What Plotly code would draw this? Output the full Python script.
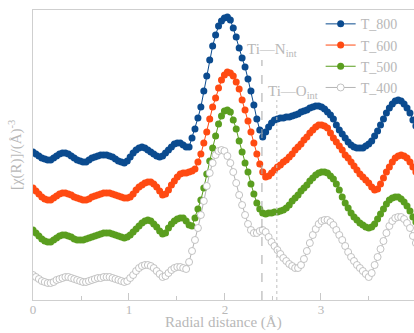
import numpy as np
import plotly.graph_objects as go

# Radial distance grid (Å)
N_PTS = 131
DR = 0.03068
r = [round(i * DR, 4) for i in range(N_PTS)]

# |chi(R)| values (offset, arbitrary units)
t800 = [148,146,144,142,141,140,140,142,144,146,
        147,147,146,144,142,140,139,138,138,140,
        142,143,144,145,145,145,144,143,141,139,
        138,137,139,143,147,150,152,153,152,150,
        148,146,144,143,144,147,150,153,156,157,
        157,155,153,153,162,171,182,193,209,224,
        240,254,265,274,279,282,283,280,272,263,
        252,242,233,221,209,195,181,170,163,168,
        173,177,180,181,182,182,183,183,184,185,
        186,188,189,190,192,193,194,194,193,191,
        188,185,181,175,170,166,162,158,155,153,
        152,152,152,154,156,159,164,169,175,181,
        187,192,196,199,200,199,196,192,187,180,174]

t600 = [112,109,106,103,101,100,100,102,104,106,
        107,107,106,105,103,102,101,100,100,101,
        103,104,105,106,107,107,107,106,105,104,
        103,102,102,103,106,110,113,115,117,118,
        118,116,113,109,105,106,110,115,119,123,
        126,127,127,128,129,131,138,146,157,168,
        181,193,202,212,220,225,228,227,224,218,
        211,200,190,179,168,157,146,136,128,123,
        124,127,130,133,135,138,140,143,146,150,
        153,156,160,163,167,170,173,175,175,174,
        172,167,162,158,154,150,145,142,138,134,
        130,126,123,120,117,113,110,111,116,122,
        128,133,138,142,144,145,144,142,138,133,128]

t500 = [70,67,64,61,59,58,58,60,62,64,
        65,65,64,63,61,60,60,60,61,62,
        63,64,65,66,67,67,67,66,65,64,
        63,62,63,65,68,71,74,77,79,80,
        79,76,73,69,66,67,72,76,79,81,
        82,82,79,75,74,82,91,100,112,126,
        139,152,164,176,184,189,190,188,180,171,
        159,148,137,128,116,106,97,91,87,86,
        87,87,88,88,89,90,92,95,99,102,
        105,109,112,115,119,122,125,127,128,128,
        127,124,121,116,110,103,97,92,87,83,
        80,77,75,73,72,73,76,81,86,91,
        96,100,102,103,103,101,98,94,89,83,78]

t400 = [25,23,21,19,18,17,17,18,20,21,
        22,23,23,22,21,20,19,18,18,19,
        20,21,22,22,23,23,23,22,21,20,
        19,18,19,22,25,29,32,34,35,35,
        34,32,29,26,23,24,27,30,32,33,
        33,32,31,38,49,60,72,85,99,114,
        127,137,145,149,150,149,144,137,128,117,
        105,95,85,76,70,67,67,69,70,68,
        63,58,54,50,46,42,39,36,34,32,
        32,35,41,49,57,65,71,76,79,80,
        80,78,75,70,65,60,54,48,43,39,
        35,32,29,26,23,27,35,43,51,59,
        67,74,79,82,83,83,81,77,72,64,57]

series_names = ["T_800", "T_600", "T_500", "T_400"]

# Reference bond distances (Å) and marker line tops
ti_n_r, ti_n_top = 2.385, 240
ti_o_r, ti_o_top = 2.54, 200

x_ticks = [0, 1, 2, 3]

GRAY = "#b8b8b8"
FONT = "Liberation Serif, Times New Roman, serif"

fig = go.Figure()

styles = [
    dict(color="#0b4b8f", fill="#0b4b8f"),
    dict(color="#ff4a12", fill="#ff4a12"),
    dict(color="#5a9e1f", fill="#5a9e1f"),
    dict(color="#b4b4b4", fill="white"),
]
for name, ys, st in zip(series_names, [t800, t600, t500, t400], styles):
    fig.add_trace(go.Scatter(
        x=r, y=ys, name=name, mode="lines+markers",
        line=dict(color=st["color"], width=1),
        marker=dict(size=7, color=st["fill"],
                    line=dict(color=st["color"], width=0.8 if st["fill"] == "white" else 0)),
    ))

fig.add_shape(type="line", xref="x", yref="y", x0=ti_n_r, x1=ti_n_r, y0=0, y1=ti_n_top,
              line=dict(color="#a8a8a8", width=1, dash="dash"))
fig.add_shape(type="line", xref="x", yref="y", x0=ti_o_r, x1=ti_o_r, y0=0, y1=ti_o_top,
              line=dict(color="#c0c0c0", width=1, dash="dot"))

fig.add_annotation(x=ti_n_r + 0.1, y=ti_n_top + 10, xref="x", yref="y",
                   text="Ti\u2014N<sub>int</sub>", showarrow=False,
                   font=dict(family=FONT, size=15, color=GRAY), xanchor="center", yanchor="middle")
fig.add_annotation(x=ti_o_r + 0.165, y=ti_o_top + 8, xref="x", yref="y",
                   text="Ti\u2014O<sub>int</sub>", showarrow=False,
                   font=dict(family=FONT, size=15, color=GRAY), xanchor="center", yanchor="middle")

# axis titles as annotations for exact placement
fig.add_annotation(x=0.5, y=-33 / 290, xref="paper", yref="paper",
                   text="Radial distance (Å)", showarrow=False,
                   font=dict(family=FONT, size=15, color=GRAY), xanchor="center", yanchor="bottom")
fig.add_annotation(x=-0.047, y=0.5, xref="paper", yref="paper", textangle=-90,
                   text="[χ(R)]/(Å)<sup>-3</sup>", showarrow=False,
                   font=dict(family=FONT, size=15, color=GRAY), xanchor="center", yanchor="middle")

fig.update_layout(
    width=414, height=333,
    margin=dict(l=33, r=0, t=10, b=33, autoexpand=False),
    plot_bgcolor="white", paper_bgcolor="white",
    showlegend=True,
    legend=dict(x=0.755, y=1.006, xanchor="left", yanchor="top",
                bgcolor="rgba(0,0,0,0)",
                font=dict(family=FONT, size=14, color=GRAY),
                tracegroupgap=0, itemwidth=30),
    xaxis=dict(range=[0, 3.969], showgrid=False, zeroline=False, automargin=False,
               showline=True, linecolor="#cfcfcf", linewidth=1, mirror=True,
               ticks="inside", ticklen=7, tickcolor="#c8c8c8",
               tickvals=x_ticks, ticktext=[str(t) for t in x_ticks],
               ticklabelstandoff=-3,
               minor=dict(ticks="inside", ticklen=4, dtick=0.5, tickcolor="#c8c8c8", showgrid=False),
               tickfont=dict(family=FONT, size=13, color=GRAY)),
    yaxis=dict(range=[0, 290], showgrid=False, zeroline=False, automargin=False,
               showline=True, linecolor="#cfcfcf", linewidth=1,
               showticklabels=False, ticks=""),
)

fig.write_html("out.html", config={"displayModeBar": False},
               post_script="document.body.style.margin='0';")
